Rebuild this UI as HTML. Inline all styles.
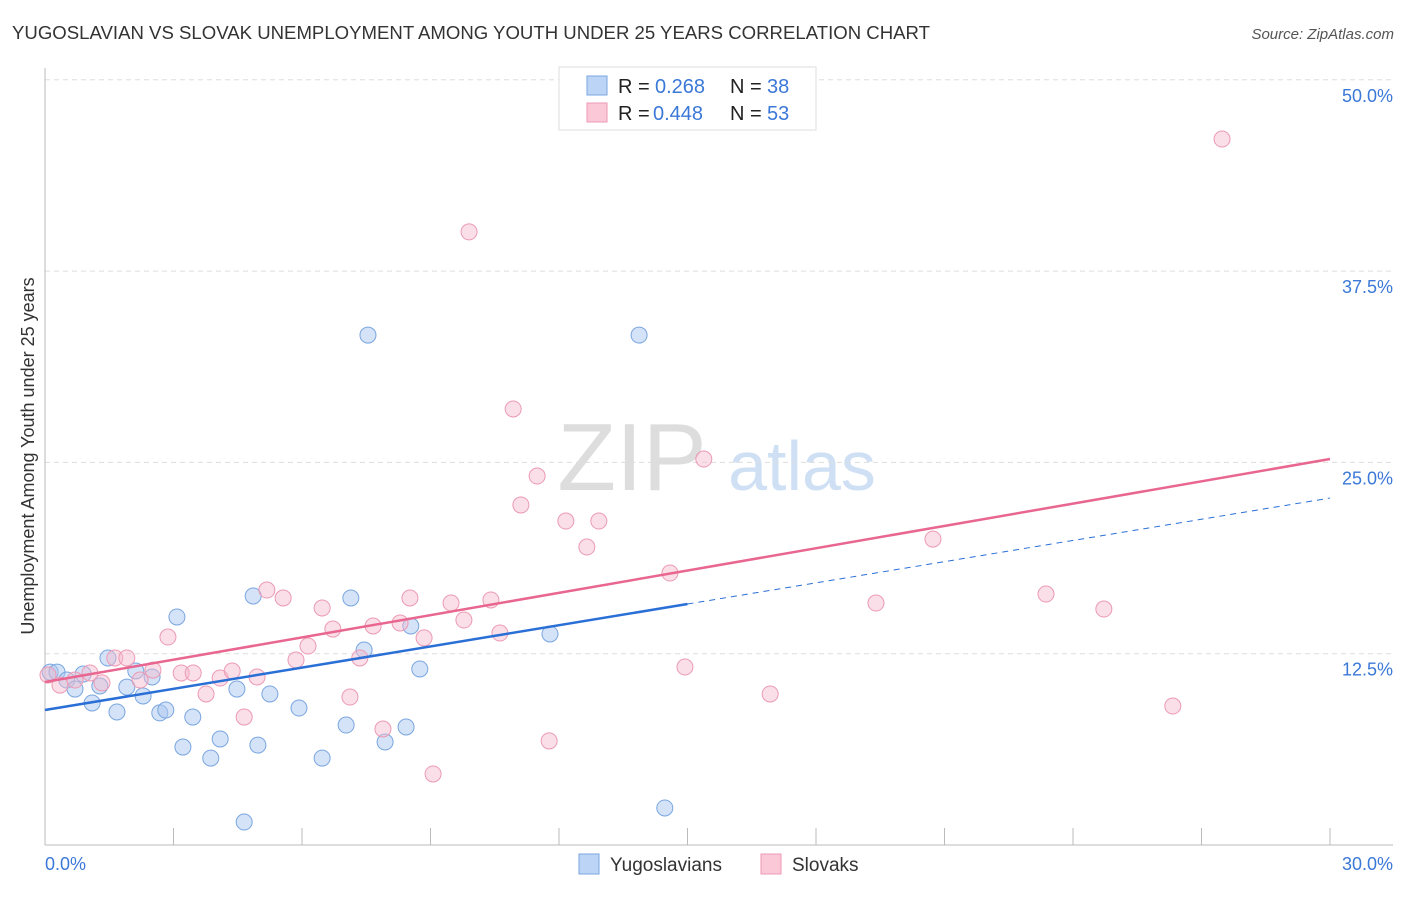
<!DOCTYPE html>
<html><head><meta charset="utf-8"><style>
body{margin:0;background:#fff;font-family:"Liberation Sans",sans-serif;}
svg text{font-family:"Liberation Sans",sans-serif;}
</style></head><body>
<svg id="chart" width="1406" height="892" viewBox="0 0 1406 892" xmlns="http://www.w3.org/2000/svg">
<text x="12" y="39" font-size="18" fill="#333" textLength="918" lengthAdjust="spacingAndGlyphs">YUGOSLAVIAN VS SLOVAK UNEMPLOYMENT AMONG YOUTH UNDER 25 YEARS CORRELATION CHART</text>
<text x="1394" y="39" font-size="15" fill="#555" font-style="italic" text-anchor="end">Source: ZipAtlas.com</text>
<g>
<text x="632" y="490" font-size="96" fill="#ddd" font-family="Liberation Serif,serif" text-anchor="middle">ZIP</text>
<text x="802" y="490" font-size="70" fill="#cfe0f5" text-anchor="middle">atlas</text>
</g>
<g id="grid"></g>
<g id="axes"></g>
<g id="marks"></g>
<text transform="translate(34,456) rotate(-90)" font-size="18" fill="#333" text-anchor="middle">Unemployment Among Youth under 25 years</text>
<g>
<rect x="559" y="67" width="257" height="63" fill="#fff" stroke="#ddd"/>
<rect x="587" y="76" width="20" height="19" fill="#bcd4f5" stroke="#7aa6e0"/>
<rect x="587" y="103" width="20" height="19" fill="#fbc8d7" stroke="#ec9ab4"/>
<text x="618" y="93" font-size="20" fill="#222">R =</text>
<text x="655" y="93" font-size="20" fill="#3b78d8">0.268</text>
<text x="730" y="93" font-size="20" fill="#222">N =</text>
<text x="767" y="93" font-size="20" fill="#3b78d8">38</text>
<text x="618" y="120" font-size="20" fill="#222">R =</text>
<text x="653" y="120" font-size="20" fill="#3b78d8">0.448</text>
<text x="730" y="120" font-size="20" fill="#222">N =</text>
<text x="767" y="120" font-size="20" fill="#3b78d8">53</text>
</g>
<g>
<rect x="579" y="854" width="20" height="20" fill="#bcd4f5" stroke="#7aa6e0"/>
<text x="610" y="871" font-size="19" fill="#333">Yugoslavians</text>
<rect x="761" y="854" width="20" height="20" fill="#fbc8d7" stroke="#ec9ab4"/>
<text x="792" y="871" font-size="19" fill="#333">Slovaks</text>
</g>
</svg>
<script>
const yTicks=[12.5,25,37.5,50];
const yTickLabels=["12.5%","25.0%","37.5%","50.0%"];
const xTickVals=[3,6,9,12,15,18,21,24,27,30];
const blueX=[0.12,0.28,0.51,0.70,0.89,1.10,1.28,1.47,1.68,1.91,2.12,2.29,2.50,2.68,2.82,3.08,3.22,3.45,3.87,4.09,4.48,4.65,4.86,4.97,5.25,5.93,6.47,7.03,7.14,7.45,7.54,7.94,8.43,8.54,8.75,11.79,13.87,14.47];
const blueY=[11.30,11.30,10.78,10.19,11.17,9.28,10.39,12.22,8.69,10.32,11.37,9.74,10.98,8.63,8.82,14.90,6.40,8.36,5.68,6.93,10.19,1.50,16.27,6.53,9.87,8.95,5.68,7.84,16.14,12.74,33.32,6.73,7.71,14.31,11.50,13.79,33.32,2.42];
const pinkX=[0.07,0.35,0.70,1.05,1.33,1.63,1.91,2.22,2.52,2.87,3.18,3.46,3.76,4.09,4.37,4.65,4.95,5.18,5.56,5.86,6.14,6.47,6.72,7.12,7.35,7.66,7.89,8.29,8.52,8.85,9.06,9.48,9.78,9.90,10.41,10.62,10.93,11.11,11.49,11.77,12.16,12.65,12.93,14.59,14.94,15.38,16.93,19.40,20.73,23.37,24.72,26.33,27.48];
const pinkY=[11.11,10.45,10.78,11.24,10.59,12.22,12.22,10.78,11.43,13.59,11.24,11.24,9.87,10.91,11.37,8.36,10.98,16.66,16.14,12.09,13.00,15.49,14.11,9.67,12.22,14.31,7.58,14.51,16.14,13.53,4.64,15.81,14.70,40.06,16.01,13.85,28.49,22.22,24.11,6.80,21.17,19.47,21.17,17.77,11.63,25.22,9.87,15.81,19.99,16.40,15.42,9.08,46.13];
const blueTrend=[8.82,22.67];
const pinkTrend=[10.65,25.22];
const NS="http://www.w3.org/2000/svg";
const sx=v=>45+v/30*1285, sy=v=>845-v/12.5*191.3;
function mk(tag,attrs,parent){const e=document.createElementNS(NS,tag);for(const k in attrs)e.setAttribute(k,attrs[k]);document.getElementById(parent).appendChild(e);return e;}
yTicks.forEach((t,i)=>{
 const g=mk('line',{x1:45,x2:1393,y1:sy(t),y2:sy(t),stroke:'#ddd','stroke-dasharray':'5,4'},'grid');
 
 
 const l=mk('text',{x:1393,y:sy(t)+22,'font-size':18,fill:'#3b78d8','text-anchor':'end'},'axes');
 l.textContent=yTickLabels[i];
 
 
});
let a=mk('line',{x1:45,x2:45,y1:68,y2:845,stroke:'#bbb'},'axes');


a=mk('line',{x1:45,x2:1393,y1:845,y2:845,stroke:'#bbb'},'axes');


xTickVals.forEach(t=>{const e=mk('line',{x1:sx(t),x2:sx(t),y1:828,y2:845,stroke:'#bbb'},'axes');
 
 });
let t0=mk('text',{x:45,y:870,'font-size':18,fill:'#3b78d8'},'axes');t0.textContent='0.0%';


let t1=mk('text',{x:1393,y:870,'font-size':18,fill:'#3b78d8','text-anchor':'end'},'axes');t1.textContent='30.0%';


blueX.forEach((x,i)=>{const c=mk('circle',{cx:sx(x),cy:sy(blueY[i]),r:8,fill:'rgba(169,200,240,0.5)',stroke:'#7aa6e0','stroke-width':1},'marks');
 
 });
pinkX.forEach((x,i)=>{const c=mk('circle',{cx:sx(x),cy:sy(pinkY[i]),r:8,fill:'rgba(245,184,203,0.45)',stroke:'#ec9ab4','stroke-width':1},'marks');
 
 });
const bm=blueTrend[0]+(blueTrend[1]-blueTrend[0])*0.5;
let l1=mk('line',{x1:sx(0),y1:sy(blueTrend[0]),x2:sx(15),y2:sy(bm),stroke:'#2a6fd6','stroke-width':2.5},'marks');


let l2=mk('line',{x1:sx(15),y1:sy(bm),x2:sx(30),y2:sy(blueTrend[1]),stroke:'#2a6fd6','stroke-width':1,'stroke-dasharray':'6,5'},'marks');


let l3=mk('line',{x1:sx(0),y1:sy(pinkTrend[0]),x2:sx(30),y2:sy(pinkTrend[1]),stroke:'#e8668f','stroke-width':2.5},'marks');


</script>
</body></html>
